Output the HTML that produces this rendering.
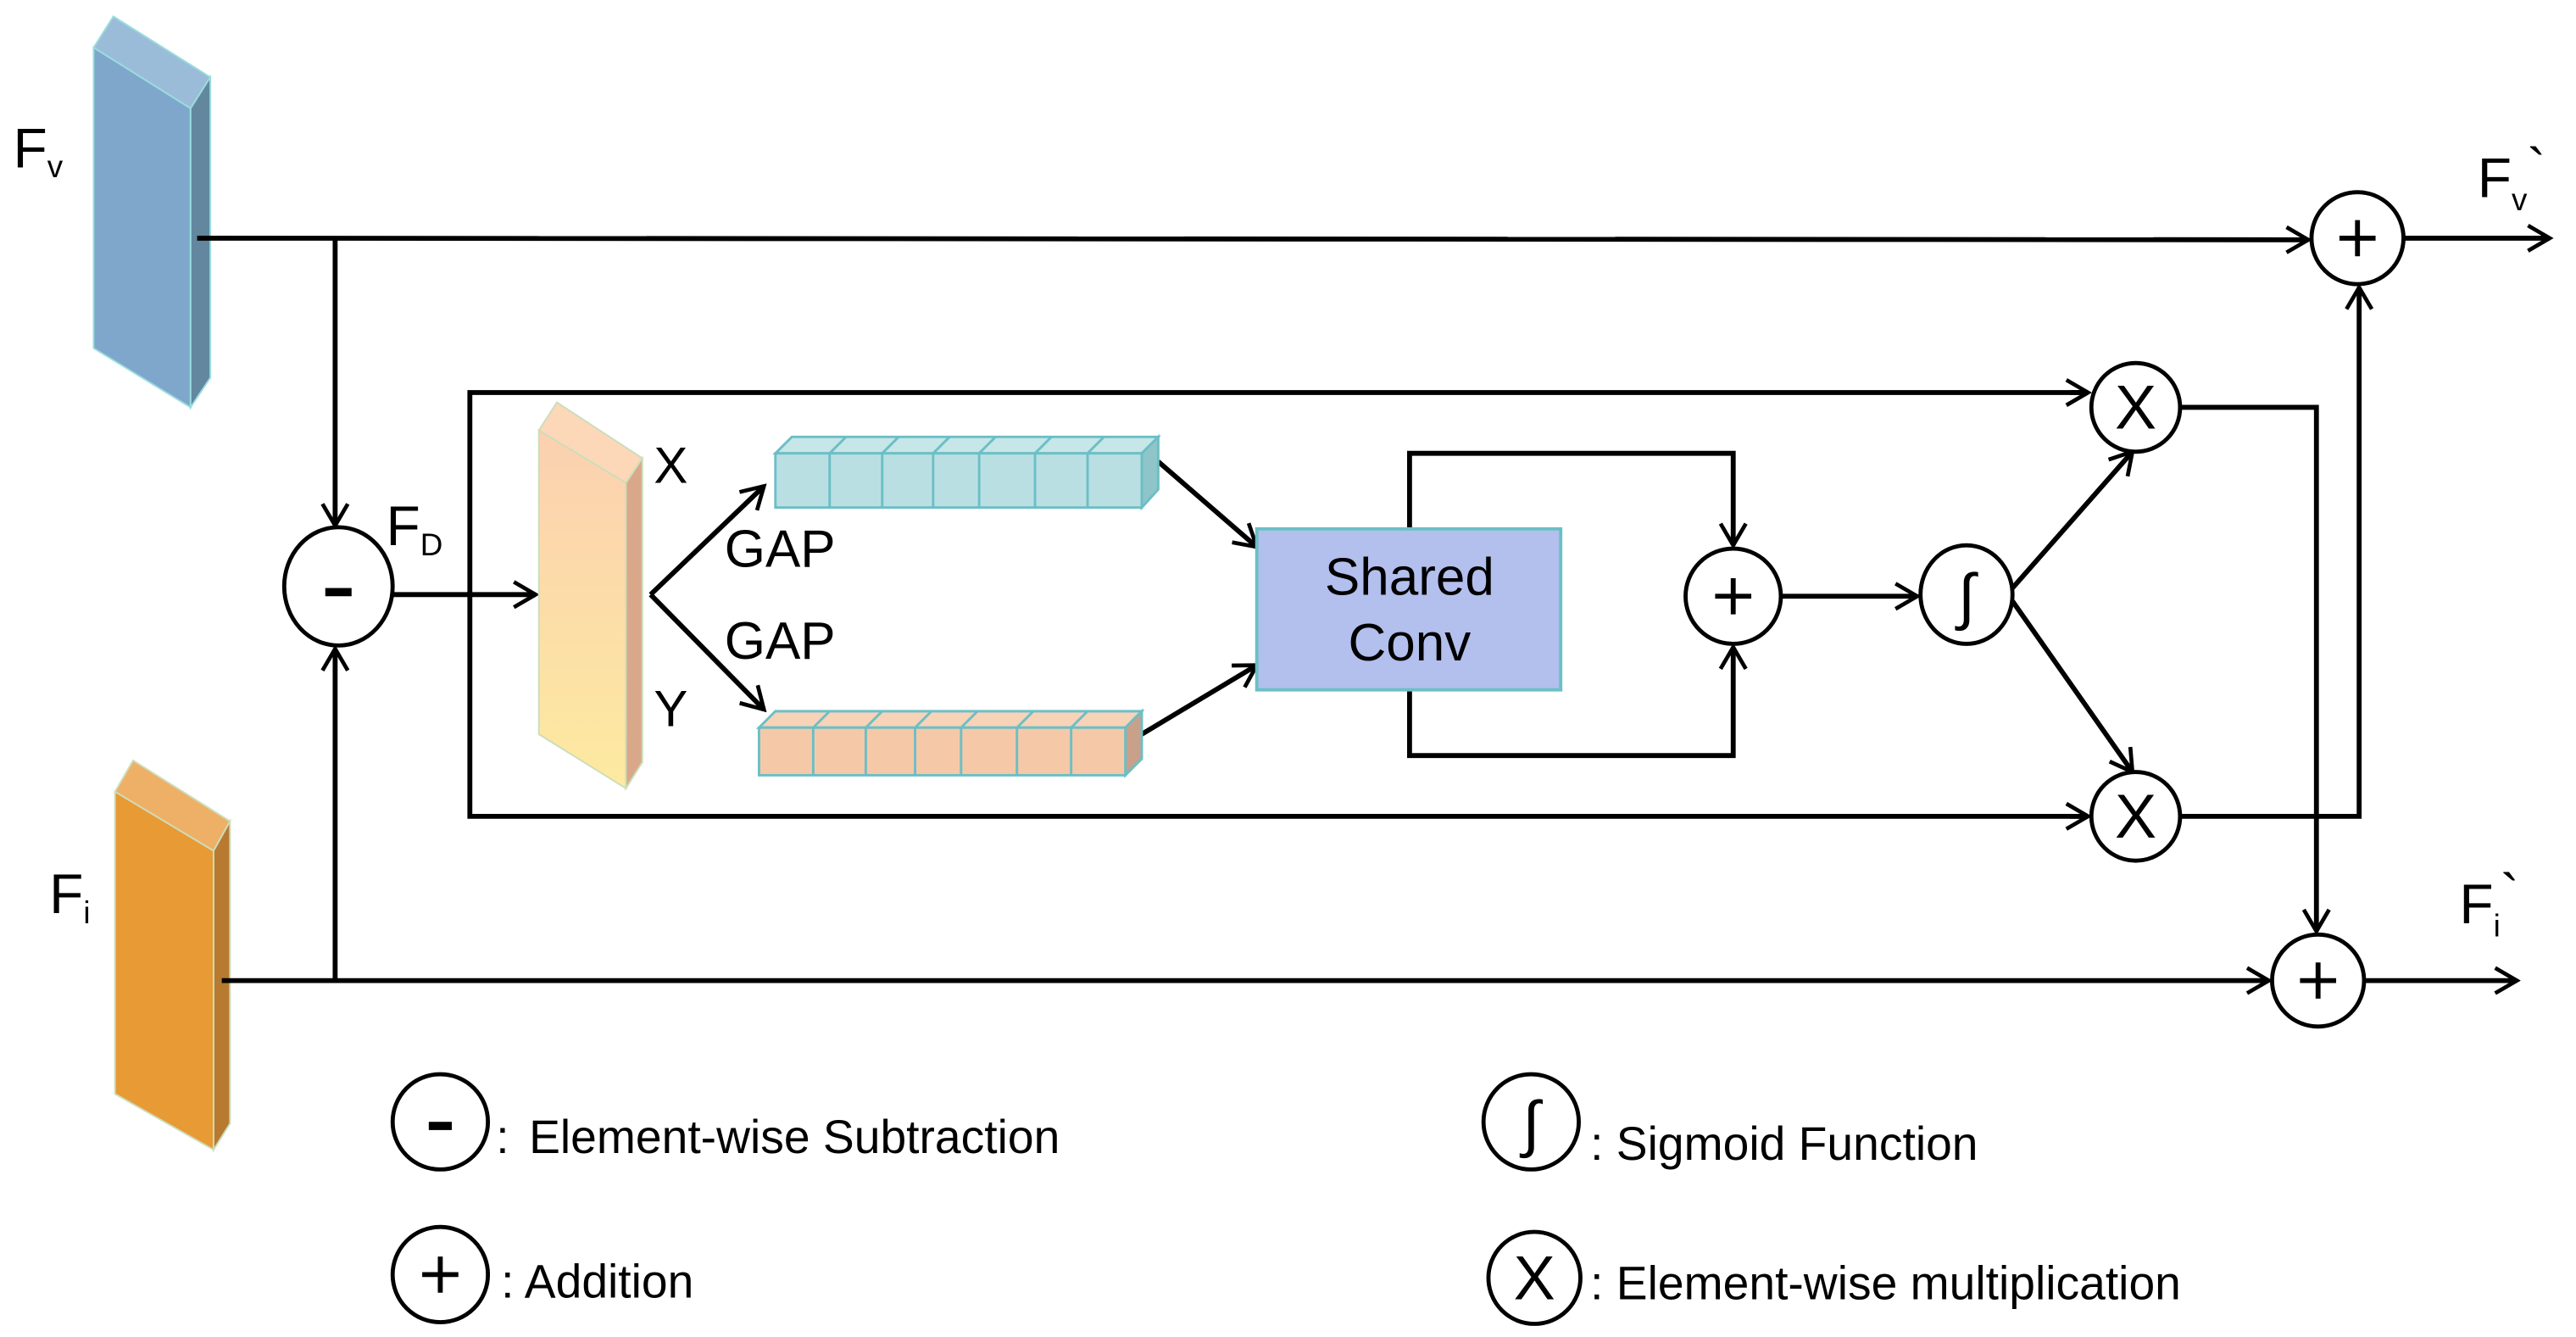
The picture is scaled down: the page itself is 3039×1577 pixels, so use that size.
<!DOCTYPE html>
<html><head><meta charset="utf-8"><style>html,body{margin:0;padding:0;background:#fff}svg{display:block}</style></head>
<body>
<svg width="3039" height="1577" viewBox="0 0 1568 814" preserveAspectRatio="none" xmlns="http://www.w3.org/2000/svg" font-family="Liberation Sans, Arial, sans-serif">
<defs>
<marker id="a" viewBox="0 0 20 20" refX="18" refY="10" markerWidth="22" markerHeight="22" markerUnits="userSpaceOnUse" orient="auto">
<polyline points="6,3 18,10 6,17" fill="none" stroke="#000" stroke-width="2.2"/>
</marker>
<linearGradient id="g" x1="0" y1="0" x2="0" y2="1"><stop offset="0" stop-color="#fbd0b0"/><stop offset="1" stop-color="#fdeaa0"/></linearGradient>
</defs>
<rect width="1568" height="814" fill="#fff"/>
<polygon points="57,29 69,10 128,47 116,66" fill="#9bbcd8" stroke="#9dd" stroke-width="1"/>
<polygon points="57,29 116,66 116,248 57,212" fill="#7fa7cc" stroke="#9dd" stroke-width="1"/>
<polygon points="116,66 128,47 128,230 116,248" fill="#62879f" stroke="#9dd" stroke-width="1"/>
<polygon points="70,482 81,463 140,500 130,518" fill="#eeb066" stroke="#cdb" stroke-width="1"/>
<polygon points="70,482 130,518 130,700 70,666" fill="#e89a35" stroke="#cdb" stroke-width="1"/>
<polygon points="130,518 140,500 140,684 130,700" fill="#b87a30" stroke="#cdb" stroke-width="1"/>
<g font-size="34" fill="#000">
<text x="8" y="102">F<tspan font-size="19" dy="6">v</tspan></text>
<text x="30" y="556">F<tspan font-size="19" dy="6">i</tspan></text>
<text x="1508" y="120">F<tspan font-size="19" dy="8">v</tspan><tspan dy="-14">`</tspan></text>
<text x="1497" y="562">F<tspan font-size="19" dy="8">i</tspan><tspan dy="-14">`</tspan></text>
<text x="235" y="332">F<tspan font-size="19" dy="6">D</tspan></text>
<text x="398" y="294" font-size="31">X</text>
<text x="398" y="442" font-size="31">Y</text>
<text x="441" y="345" font-size="32">GAP</text>
<text x="441" y="401" font-size="32">GAP</text>
</g>
<g fill="none" stroke="#000" stroke-width="3">
<line x1="120" y1="145" x2="1405" y2="146" marker-end="url(#a)"/>
<line x1="1464" y1="145" x2="1552" y2="145" marker-end="url(#a)"/>
<line x1="204" y1="145" x2="204" y2="320" marker-end="url(#a)"/>
<line x1="135" y1="597" x2="1381" y2="597" marker-end="url(#a)"/>
<line x1="1440" y1="597" x2="1532" y2="597" marker-end="url(#a)"/>
<line x1="204" y1="597" x2="204" y2="395" marker-end="url(#a)"/>
<line x1="239" y1="362" x2="326" y2="362" marker-end="url(#a)"/>
<polyline points="1270,239 286,239 286,497 1270,497" />
<line x1="1260" y1="239" x2="1271" y2="239" marker-end="url(#a)"/>
<line x1="1260" y1="497" x2="1271" y2="497" marker-end="url(#a)"/>
<polyline points="396,362 465,296" marker-end="url(#a)"/>
<polyline points="396,362 465,432" marker-end="url(#a)"/>
<line x1="705" y1="281" x2="765" y2="333" marker-end="url(#a)"/>
<line x1="695" y1="447" x2="765" y2="405" marker-end="url(#a)"/>
<polyline points="858,322 858,276 1055,276 1055,332" marker-end="url(#a)"/>
<polyline points="858,420 858,460 1055,460 1055,394" marker-end="url(#a)"/>
<line x1="1084" y1="363" x2="1167" y2="363" marker-end="url(#a)"/>
<line x1="1225" y1="358" x2="1298" y2="275" marker-end="url(#a)"/>
<line x1="1225" y1="366" x2="1298" y2="470" marker-end="url(#a)"/>
<polyline points="1327,248 1410,248 1410,567" marker-end="url(#a)"/>
<polyline points="1327,497 1436,497 1436,175" marker-end="url(#a)"/>
</g>
<polygon points="328,262 339,245 391,279 381,294" fill="#fcd8b8" stroke="#cdb" stroke-width="1"/>
<polygon points="328,262 381,294 381,480 328,447" fill="url(#g)" stroke="#cdb" stroke-width="1"/>
<polygon points="381,294 391,279 391,464 381,480" fill="#d9a88a" stroke="#cdb" stroke-width="1"/>
<g stroke="#6bbfc6" stroke-width="1.5">
<polygon points="472,276 482,266 705,266 695,276" fill="#c7e6e8"/>
<polygon points="695,276 705,266 705,298 695,309" fill="#8fc4c8"/>
<rect x="472" y="276" width="223" height="33" fill="#badfe2"/>
<line x1="505" y1="276" x2="505" y2="309"/><line x1="537" y1="276" x2="537" y2="309"/><line x1="568" y1="276" x2="568" y2="309"/><line x1="596" y1="276" x2="596" y2="309"/><line x1="630" y1="276" x2="630" y2="309"/><line x1="662" y1="276" x2="662" y2="309"/>
<line x1="515" y1="266" x2="505" y2="276"/><line x1="547" y1="266" x2="537" y2="276"/><line x1="578" y1="266" x2="568" y2="276"/><line x1="606" y1="266" x2="596" y2="276"/><line x1="640" y1="266" x2="630" y2="276"/><line x1="672" y1="266" x2="662" y2="276"/>
<polygon points="462,443 472,433 695,433 685,443" fill="#f7d3b8"/>
<polygon points="685,443 695,433 695,462 685,472" fill="#c9a08a"/>
<rect x="462" y="443" width="223" height="29" fill="#f5c9a8"/>
<line x1="495" y1="443" x2="495" y2="472"/><line x1="527" y1="443" x2="527" y2="472"/><line x1="557" y1="443" x2="557" y2="472"/><line x1="585" y1="443" x2="585" y2="472"/><line x1="619" y1="443" x2="619" y2="472"/><line x1="652" y1="443" x2="652" y2="472"/>
<line x1="505" y1="433" x2="495" y2="443"/><line x1="537" y1="433" x2="527" y2="443"/><line x1="567" y1="433" x2="557" y2="443"/><line x1="595" y1="433" x2="585" y2="443"/><line x1="629" y1="433" x2="619" y2="443"/><line x1="662" y1="433" x2="652" y2="443"/>
</g>
<rect x="765" y="322" width="185" height="98" fill="#b3bfed" stroke="#6bbfc6" stroke-width="2"/>
<text x="858" y="362" font-size="32" text-anchor="middle">Shared</text>
<text x="858" y="402" font-size="32" text-anchor="middle">Conv</text>
<g fill="#fff" stroke="#000" stroke-width="2.5">
<ellipse cx="206" cy="357" rx="33" ry="36"/>
<circle cx="1435" cy="145" r="28"/>
<circle cx="1411" cy="597" r="28"/>
<circle cx="1055" cy="363" r="29"/>
<ellipse cx="1197" cy="362" rx="28" ry="30"/>
<circle cx="1300" cy="248" r="27"/>
<circle cx="1300" cy="497" r="27"/>
<circle cx="268" cy="683" r="29"/>
<circle cx="268" cy="776" r="29"/>
<circle cx="932" cy="683" r="29"/>
<circle cx="934" cy="778" r="28"/>
</g>
<rect x="198" y="358" width="16" height="5" fill="#000"/>
<rect x="261" y="683" width="14" height="5" fill="#000"/>
<g stroke="#000" stroke-width="3">
<path d="M1424,145h22M1435,134v22"/>
<path d="M1400,597h22M1411,586v22"/>
<path d="M1044,363h22M1055,352v22"/>
<path d="M257,776h22M268,765v22"/>
</g>
<g font-size="36" text-anchor="middle" fill="#000">
<text x="1197" y="376" font-size="38">∫</text>
<text x="932" y="697" font-size="38">∫</text>
<text x="1300" y="261" font-size="38">X</text>
<text x="1300" y="510" font-size="38">X</text>
<text x="934" y="791" font-size="38">X</text>
</g>
<g font-size="28.5" fill="#000">
<text x="302" y="702">:  <tspan x="322">Element-wise Subtraction</tspan></text>
<text x="305" y="790">: Addition</text>
<text x="968" y="706">: Sigmoid Function</text>
<text x="968" y="791">: Element-wise multiplication</text>
</g>
</svg>
</body></html>
